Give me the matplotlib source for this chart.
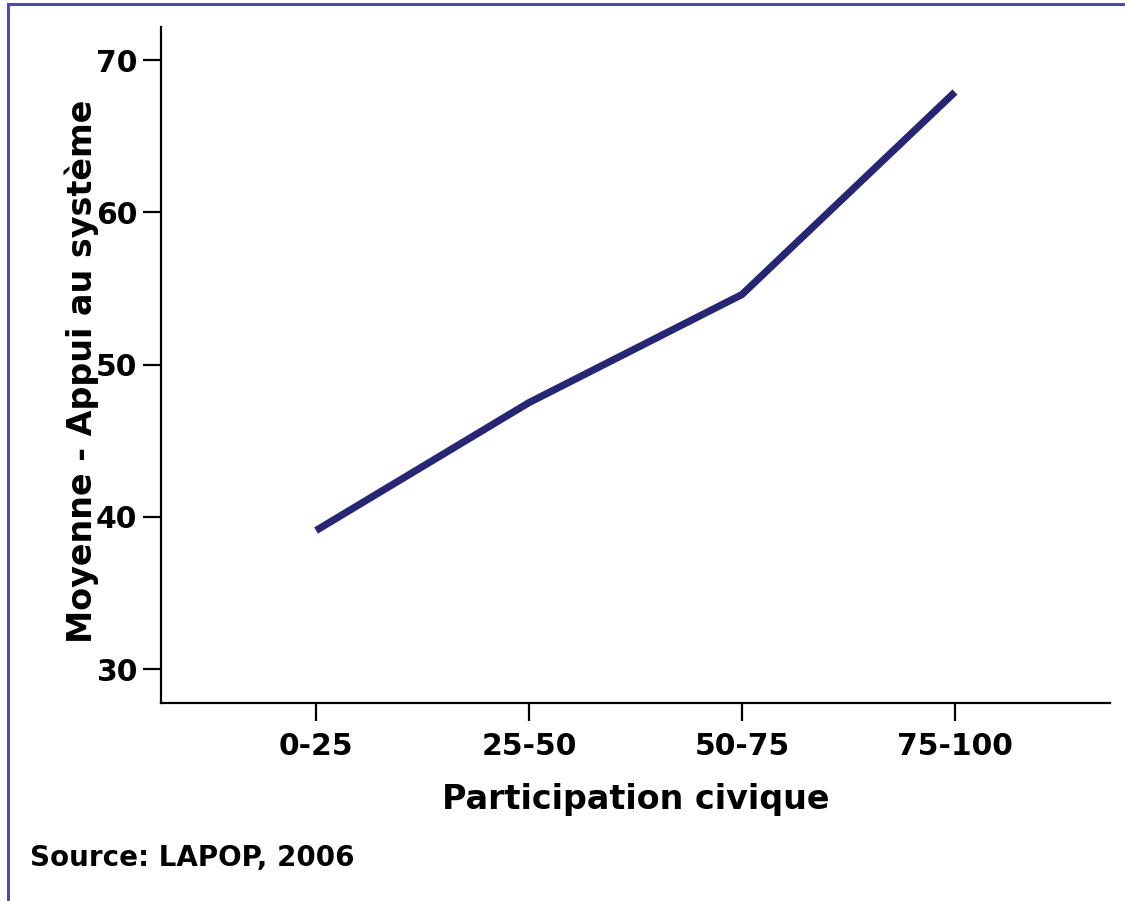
import matplotlib.pyplot as plt
from matplotlib.lines import Line2D

categories = ["0-25", "25-50", "50-75", "75-100"]
support = [39.1, 47.5, 54.6, 67.9]
y_ticks = [30, 40, 50, 60, 70]

plt.rcParams["font.family"] = ["DejaVu Sans"]
plt.rcParams["font.weight"] = "bold"

fig = plt.figure(figsize=(11.25, 9.01), dpi=100)
ax = fig.add_axes([161 / 1125, 1 - 703 / 901, (1110 - 161) / 1125, (703 - 27) / 901])

x = range(len(categories))
ax.plot(x, support, color="#262673", linewidth=5.2, solid_capstyle="butt")

ax.set_xlim(-0.728, 3.728)
ax.set_ylim(27.77, 72.17)
ax.set_xticks(list(x))
ax.set_xticklabels(categories)
ax.set_yticks(y_ticks)

for side in ["top", "right"]:
    ax.spines[side].set_visible(False)
for side in ["left", "bottom"]:
    ax.spines[side].set_linewidth(1.6)
ax.tick_params(axis="both", length=13, width=1.6, labelsize=21.5)
ax.tick_params(axis="y", pad=4)
ax.tick_params(axis="x", pad=8)
for lbl in ax.get_xticklabels() + ax.get_yticklabels():
    lbl.set_fontweight("bold")

ax.set_xlabel("Participation civique", fontsize=24, fontweight="bold", labelpad=16)
ax.set_ylabel("Moyenne - Appui au système", fontsize=24, fontweight="bold")
ax.yaxis.set_label_coords(-0.065, 0.49)

fig.text(30 / 1125, 1 - 858 / 901, "Source: LAPOP, 2006", fontsize=20,
         fontweight="bold", va="center", ha="left")

# figure frame lines (top and left)
fig.add_artist(Line2D([8 / 1125, 1], [1 - 4 / 901, 1 - 4 / 901], color="#4c4cb0", linewidth=2.2,
                      transform=fig.transFigure))
fig.add_artist(Line2D([8 / 1125, 8 / 1125], [0, 1 - 4 / 901], color="#4c4cb0", linewidth=2.2,
                      transform=fig.transFigure))

fig.savefig("out.png", dpi=100)
